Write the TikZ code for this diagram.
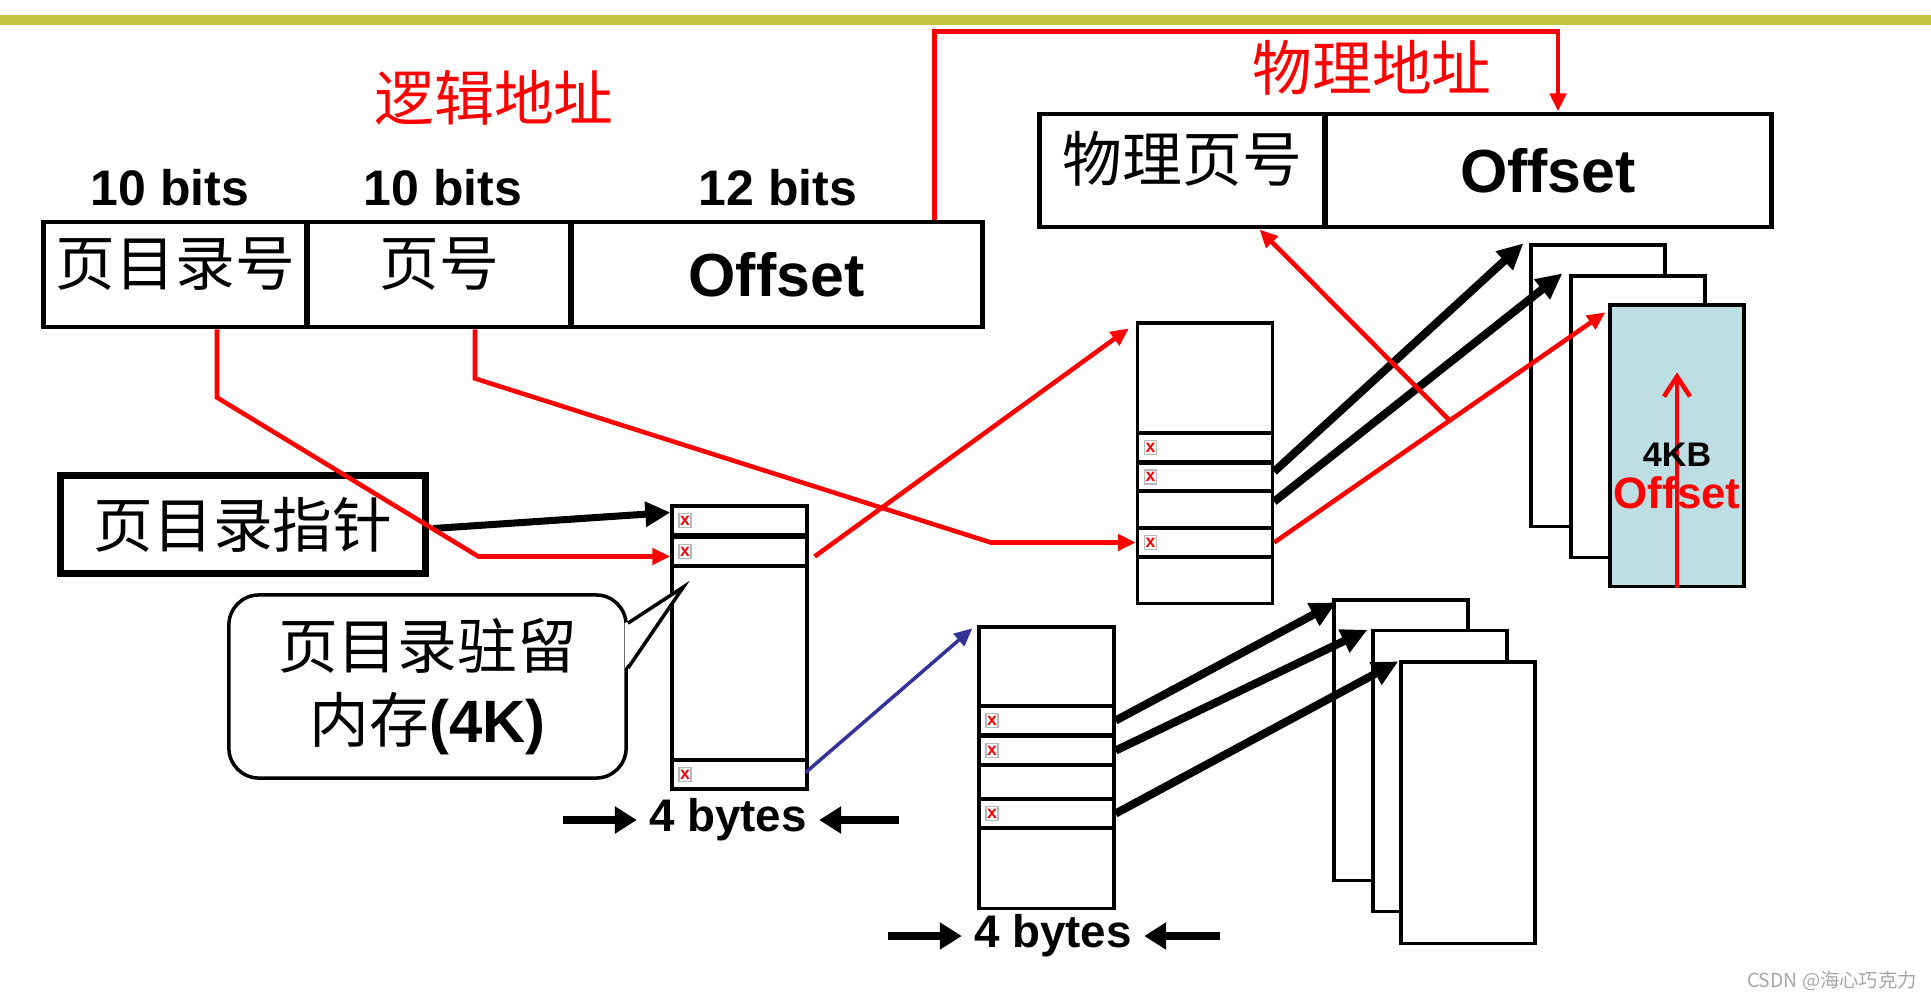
\documentclass[tikz,border=0pt]{standalone}
\usepackage{fontspec}
\setmainfont{Liberation Sans}
\newfontfamily\cjk{Noto Sans CJK SC}
\usetikzlibrary{arrows.meta,calc}
\definecolor{barolive}{HTML}{C3C340}
\definecolor{pagecyan}{HTML}{BDDFE3}
\definecolor{linkblue}{HTML}{333399}

\begin{document}
\begin{tikzpicture}[
  x=0.01cm, y=-0.01cm,
  cn/.style={font=\cjk\fontsize{17}{21}\selectfont},
  up/.style={text height=0.88em, text depth=0.27em},
  addr/.style={font=\cjk\fontsize{17}{21}\selectfont, text=red},
  bits/.style={font=\bfseries\fontsize{14.2}{16}\selectfont},
  cell/.style={draw, line width=1.4pt, minimum height=1.05cm, inner sep=0pt},
  tbl/.style={draw, line width=0.9pt, minimum width=1.35cm, inner sep=0pt},
  ent/.style={draw, line width=0.9pt, minimum width=1.35cm,
    minimum height=0.29cm, inner sep=0pt},
  pg/.style={draw, line width=0.9pt, fill=white, minimum width=1.34cm,
    minimum height=2.81cm, inner sep=0pt},
  bad/.style={draw=gray!55, line width=0.4pt, fill=white, minimum width=0.12cm,
    minimum height=0.14cm, inner sep=0pt, text=red,
    font=\bfseries\fontsize{5}{5}\selectfont},
  rline/.style={red, line width=1.3pt, -{Triangle[length=0.18cm, width=0.16cm]}},
  kline/.style={line width=2.3pt, -{Triangle[length=0.26cm, width=0.24cm]}},
  bytearr/.style={line width=2.2pt, -{Triangle[length=0.22cm, width=0.26cm]}}]
\useasboundingbox (0,0) rectangle (1931,1000);
\fill[barolive] (0,15) rectangle (1931,25);

% logical address
\node[addr] (lt) at (494,98) {逻辑地址};
\node[bits] (b1) at (170,188) {10 bits};
\node[bits] (b2) at (443,188) {10 bits};
\node[bits] (b3) at (778,188) {12 bits};
\node[cell, cn, up, minimum width=2.63cm] (ldir) at (175.5,274.5) {页目录号};
\node[cell, cn, up, minimum width=2.64cm] (lpg) at (439,274.5) {页号};
\node[cell, minimum width=4.11cm, font=\bfseries\fontsize{17.3}{20}\selectfont]
  (loff) at (776.5,274.5) {Offset};

% physical address
\node[addr] (pt) at (1372,68) {物理地址};
\node[cell, cn, up, minimum width=2.85cm, minimum height=1.13cm] (pnum) at (1182.5,170.5) {物理页号};
\node[cell, minimum width=4.46cm, minimum height=1.13cm,
  font=\bfseries\fontsize{17.3}{20}\selectfont] (poff) at (1548,170.5) {Offset};

\node[draw, line width=2pt, minimum width=3.65cm, minimum height=0.98cm, cn]
  (ptr) at (243,524.5) {页目录指针};

% callout
\node[draw, line width=1pt, rounded corners=0.3cm, minimum width=3.97cm,
  minimum height=1.83cm, align=center, cn] (note) at (427.5,686.5)
  {页目录驻留\\内存{\rmfamily\bfseries(4K)}};

% page directory
\node[tbl, minimum height=2.83cm] (dir) at (739.5,647.5) {};
\node[ent] (d1) at (739.5,520.5) {};
\node[ent] (d2) at (739.5,551.5) {};
\node[ent] (dN) at (739.5,774.5) {};
\coordinate (tip) at ($(dir.west)+(13,-60.5)$);
\fill[white] ($(note.north east)+(-3,30)$) -- (tip) -- ($(note.north east)+(-3,75)$) -- cycle;
\draw[line width=1pt] ($(note.north east)+(0,30)$) -- (tip) -- ($(note.north east)+(0,75)$);

% page tables
\node[tbl, minimum height=2.8cm] (pt1) at (1205,463) {};
\node[ent] (eA) at (1205,447.5) {};
\node[ent, minimum height=0.28cm] (eB) at (1205,477) {};
\node[ent] (eC) at (1205,542.5) {};
\node[tbl, minimum height=2.81cm] (pt2) at (1046.5,767.5) {};
\node[ent] (eD) at (1046.5,720.5) {};
\node[ent] (eE) at (1046.5,750.5) {};
\node[ent] (eF) at (1046.5,813.5) {};
\foreach \e in {d1,d2,dN,eA,eB,eC,eD,eE,eF}
  \node[bad] (x\e) at ($(\e.west)+(14.5,0)$) {x};

% pages
\node[pg] (p1) at (1598,385.5) {};
\node[pg] (p2) at (1638,416.5) {};
\node[pg, fill=pagecyan] (p3) at (1677,445.5) {};
\node[pg, minimum height=2.8cm] (q1) at (1401,740) {};
\node[pg] (q2) at (1440,771) {};
\node[pg] (q3) at (1468,802.5) {};

% connectors
\draw[red, line width=1.3pt, -{Triangle[length=0.18cm, width=0.16cm]}]
  ($(loff.north east)+(-50,0)$) -- ++(0,-188) -| ($(poff.north)+(10,0)$);
\draw[line width=2pt, -{Triangle[length=0.25cm, width=0.24cm]}]
  ($(ptr.east)+(4,4)$) -- ($(d1.west)+(0,-8)$);
\draw[rline] ($(ldir.south)+(41.5,0)$) -- ++(0,68) -- ($(d2.west)+(-192,5)$) -- ($(d2.west)+(0,5)$);
\draw[rline] ($(lpg.south)+(36,0)$) -- ++(0,49) -- ($(eC.west)+(-145,0)$) -- (eC.west);
\draw[rline] ($(d2.east)+(6,5)$) -- ($(pt1.north west)+(-7,7)$);
\draw[linkblue, line width=1pt, -{Triangle[length=0.18cm, width=0.16cm]}]
  ($(dN.east)+(-3,-2)$) -- ($(pt2.north west)+(-5,3)$);
\draw[kline] ($(eA.south east)+(0,8)$) -- ($(p1.north west)+(-6,0)$);
\draw[kline] ($(eB.south east)+(0,9)$) -- ($(p2.north west)+(-7,-1)$);
\draw[rline] (eC.east) -- coordinate[pos=0.53] (jn) ($(p3.north west)+(-3,9)$);
\draw[rline] (jn) -- ($(pnum.south)+(77,0)$);
\draw[kline] (eD.east) -- ($(q1.north west)+(4,4)$);
\draw[kline] (eE.east) -- ($(q2.north west)+(-4,1)$);
\draw[kline] (eF.east) -- ($(q3.north west)+(-1,1)$);

% offset inside page
\draw[red, line width=1.3pt, -{Straight Barb[length=0.2cm, width=0.26cm]}]
  (p3.south) -- ($(p3.north)+(0,69)$);
\node[font=\bfseries\fontsize{9.7}{11}\selectfont] (kb) at (1677,455) {4KB};
\node[font=\bfseries\fontsize{12.5}{14}\selectfont, text=red] (po) at (1677,493) {Offset};

% 4 bytes
\node[font=\bfseries\fontsize{13}{15}\selectfont] (w1) at (728,820) {4 bytes};
\draw[bytearr] ($(w1.west)+(-74,0)$) -- (w1.west);
\draw[bytearr] ($(w1.east)+(80,0)$) -- (w1.east);
\node[font=\bfseries\fontsize{13}{15}\selectfont] (w2) at (1053,936) {4 bytes};
\draw[bytearr] ($(w2.west)+(-74,0)$) -- (w2.west);
\draw[bytearr] ($(w2.east)+(76,0)$) -- (w2.east);

\node[text=gray!70, font=\cjk\fontsize{5.5}{6}\selectfont] (wm) at (1832,981) {CSDN @海心巧克力};
\end{tikzpicture}
\end{document}
